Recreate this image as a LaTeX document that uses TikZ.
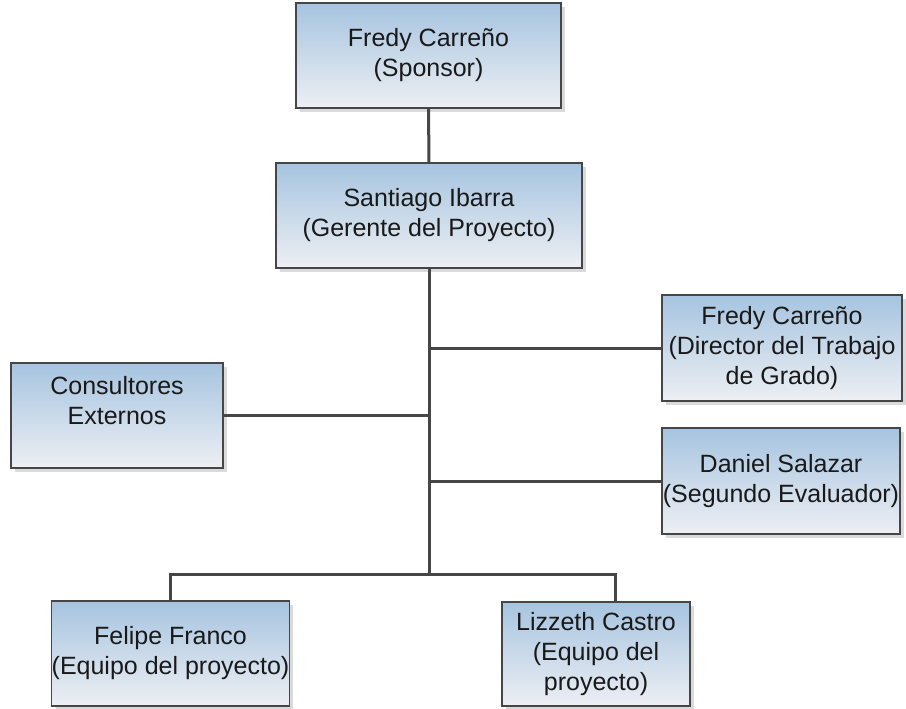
\documentclass[tikz,border=0pt]{standalone}
\usepackage{fontspec}
\setmainfont{Liberation Sans}
\usetikzlibrary{shadows}
\definecolor{boxtop}{RGB}{166,196,224}
\definecolor{boxbot}{RGB}{237,239,243}
\definecolor{edgegray}{RGB}{70,70,70}
\definecolor{shadowgray}{RGB}{218,218,218}
\begin{document}
\begin{tikzpicture}[x=1pt,y=-1pt,
  orgbox/.style={rectangle, draw=edgegray, line width=1.1pt, inner sep=0pt, outer sep=0pt,
    top color=boxtop, bottom color=boxbot, align=center,
    font=\fontsize{25}{30}\selectfont, text=black!90,
    drop shadow={shadow xshift=4pt, shadow yshift=-4pt, fill=shadowgray, opacity=1}},
  link/.style={draw=edgegray, line width=3pt}]
\useasboundingbox (0,0) rectangle (906,709);
\node[orgbox, minimum width=265pt, minimum height=105pt] (sp) at (428.5,55.5) {Fredy Carreño\\(Sponsor)};
\node[orgbox, minimum width=306pt, minimum height=105pt] (gm) at (429,215.5) {Santiago Ibarra\\(Gerente del Proyecto)};
\node[orgbox, minimum width=240pt, minimum height=106pt] (dir) at (782,348) {Fredy Carreño\\(Director del Trabajo\\de Grado)};
\node[orgbox, minimum width=212pt, minimum height=105pt] (con) at (117,415.5) {Consultores\\Externos\\~};
\node[orgbox, minimum width=238pt, minimum height=106pt] (dan) at (781,481) {Daniel Salazar\\(Segundo Evaluador)};
\node[orgbox, minimum width=237pt, minimum height=105pt] (fel) at (170.5,653.5) {Felipe Franco\\(Equipo del proyecto)};
\node[orgbox, minimum width=188pt, minimum height=104pt] (liz) at (596,654) {Lizzeth Castro\\(Equipo del\\proyecto)};
\coordinate (j) at (429,574);
\coordinate (lizdrop) at (615,602);
\draw[link] (sp.south) -- (gm.north);
\draw[link] (gm.south) -- (j);
\draw[link] (dir.west) -- (gm.south |- dir.west);
\draw[link] (con.east) -- (gm.south |- con.east);
\draw[link] (dan.west) -- (gm.south |- dan.west);
\draw[link] (fel.north) |- (j) -| (lizdrop);
\end{tikzpicture}
\end{document}
